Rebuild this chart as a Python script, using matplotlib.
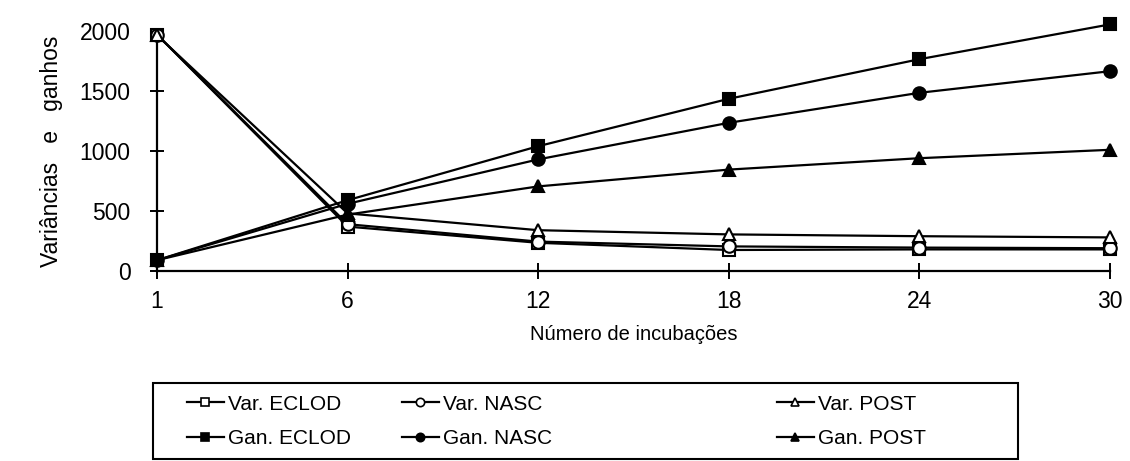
import numpy as np
import matplotlib
matplotlib.use("Agg")
from matplotlib import pyplot as plt
from matplotlib.patches import Rectangle

plt.rcParams['font.family'] = ['Liberation Sans', 'DejaVu Sans']

incub = ['1', '6', '12', '18', '24', '30']
var_eclod = [1970, 370, 235, 175, 180, 180]
var_nasc = [1970, 390, 245, 205, 195, 190]
var_post = [1965, 480, 340, 305, 290, 280]
gan_eclod = [90, 590, 1040, 1435, 1765, 2055]
gan_nasc = [90, 560, 930, 1235, 1485, 1665]
gan_post = [90, 470, 705, 845, 940, 1010]

fig = plt.figure(figsize=(11.3, 4.61), dpi=100)
ax = fig.add_axes([157/1130, 1-271/461, (1110-157)/1130, 240/461])

x = np.arange(len(incub))
series = [
    (var_eclod, 's', 'white', 'Var. ECLOD'),
    (var_nasc, 'o', 'white', 'Var. NASC'),
    (var_post, '^', 'white', 'Var. POST'),
    (gan_eclod, 's', 'black', 'Gan. ECLOD'),
    (gan_nasc, 'o', 'black', 'Gan. NASC'),
    (gan_post, '^', 'black', 'Gan. POST'),
]
lines = {}
for y, m, fc, lab in series:
    ln, = ax.plot(x, y, color='black', lw=1.6, marker=m, ms=9, mfc=fc,
                  mec='black', mew=1.5, clip_on=False, label=lab, zorder=3)
    lines[lab] = ln

ax.set_xlim(0, 5)
ax.set_ylim(0, 2000)
ax.set_xticks(x)
ax.set_xticklabels(incub)
ax.set_yticks([0, 500, 1000, 1500, 2000])
for s in ['top', 'right']:
    ax.spines[s].set_visible(False)
for s in ['left', 'bottom']:
    ax.spines[s].set_linewidth(1.6)
ax.tick_params(axis='x', direction='inout', length=12, width=1.4, pad=8, labelsize=16.5)
ax.tick_params(axis='y', direction='inout', length=10, width=1.4, pad=14, labelsize=16.5)

ax.set_ylabel('Variâncias   e   ganhos', fontsize=16.5, labelpad=12)
ax.set_xlabel('Número de incubações', fontsize=14.5, labelpad=8)

# legend: three columns in one frame
fig.add_artist(Rectangle((153/1130, 1-459/461), 865/1130, 76/461,
                         transform=fig.transFigure, fill=False, ec='black', lw=1.5))
cols = [('Var. ECLOD', 'Gan. ECLOD', 172), ('Var. NASC', 'Gan. NASC', 387),
        ('Var. POST', 'Gan. POST', 762)]
for a, b, px in cols:
    hs = []
    for lab in (a, b):
        ln = lines[lab]
        h, = ax.plot([], [], color='black', lw=1.6, marker=ln.get_marker(), ms=6,
                     mfc=ln.get_markerfacecolor(), mec='black', mew=1.2)
        hs.append(h)
    fig.legend(hs, [a, b], loc='upper left', bbox_to_anchor=(px/1130, 1-380/461),
               frameon=False, fontsize=15, handlelength=1.8, handletextpad=0.2,
               labelspacing=0.75, borderpad=0.2)

fig.savefig('out.png', dpi=100)
